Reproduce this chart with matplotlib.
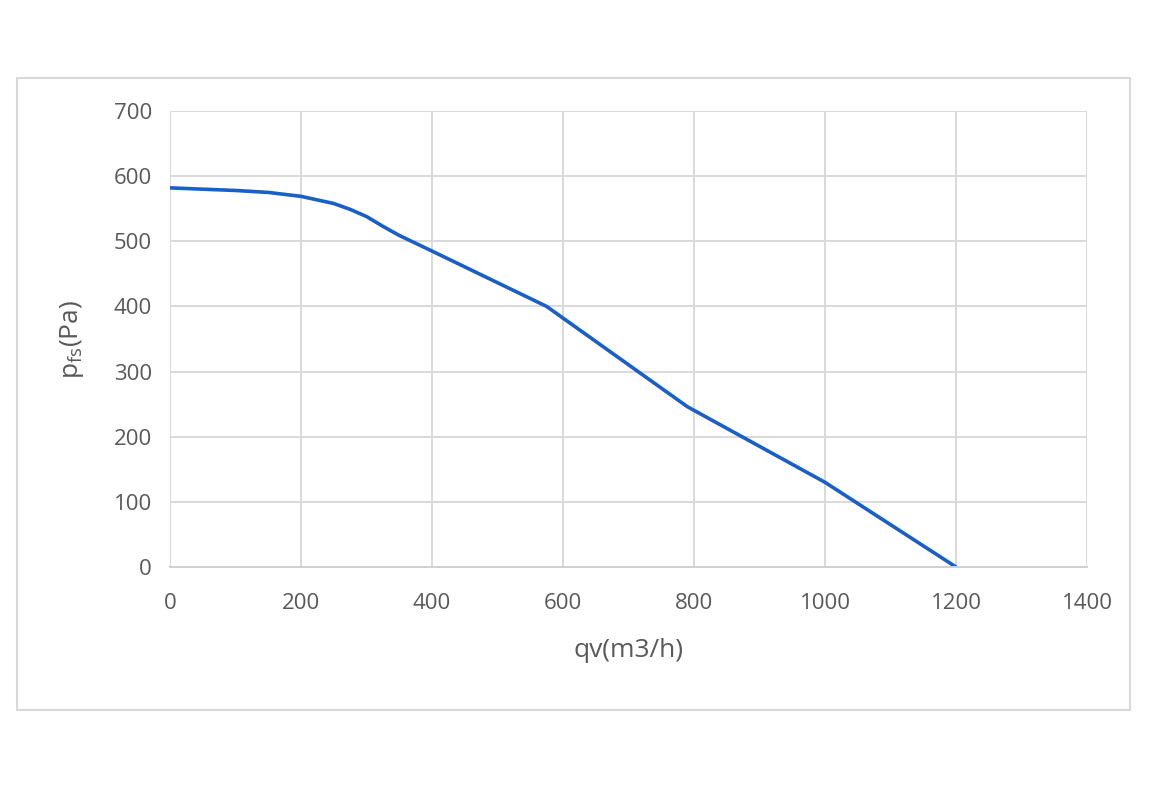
import matplotlib
matplotlib.use("Agg")
import matplotlib.pyplot as plt
from matplotlib.patches import Rectangle

qv = [0, 100, 150, 200, 250, 275, 300, 325, 350, 400, 575, 790, 1000, 1200]
pfs = [582, 578, 575, 569, 558, 549, 538, 523, 509, 485, 400, 246, 130, 0]
xticks = [0, 200, 400, 600, 800, 1000, 1200, 1400]
yticks = [0, 100, 200, 300, 400, 500, 600, 700]

plt.rcParams['font.family'] = ['Open Sans', 'DejaVu Sans']
plt.rcParams['mathtext.fontset'] = 'custom'
plt.rcParams['mathtext.rm'] = 'Open Sans'

fig = plt.figure(figsize=(11.5, 7.89), dpi=100)
fig.patches.append(Rectangle((17/1150, 1-710/789), (1130-17)/1150, (710-78)/789,
                             transform=fig.transFigure, fill=False,
                             edgecolor='#d9d9d9', linewidth=1.5))
ax = fig.add_axes([170/1150, 1-567/789, (1087-170)/1150, (567-111)/789])

ax.plot(qv, pfs, color='#1a5fc8', linewidth=2.6, solid_capstyle='round',
        solid_joinstyle='round')
ax.set_xlim(0, 1400)
ax.set_ylim(0, 700)
ax.set_xticks(xticks)
ax.set_yticks(yticks)
ax.grid(True, color='#d9d9d9', linewidth=1.4)
ax.set_axisbelow(True)
for s in ['top', 'right', 'left']:
    ax.spines[s].set_visible(False)
ax.spines['bottom'].set_color('#d0d0d0')
ax.spines['bottom'].set_linewidth(1.4)
ax.tick_params(length=0, labelsize=16, colors='#595959')
ax.tick_params(axis='x', pad=19)
ax.tick_params(axis='y', pad=13)
ax.set_xlabel('qv(m3/h)', fontsize=19, color='#595959', labelpad=17)
ax.set_ylabel(r'p$_{\mathrm{fs}}$(Pa)', fontsize=19, color='#595959', labelpad=20)

fig.savefig('out.png', dpi=100)
